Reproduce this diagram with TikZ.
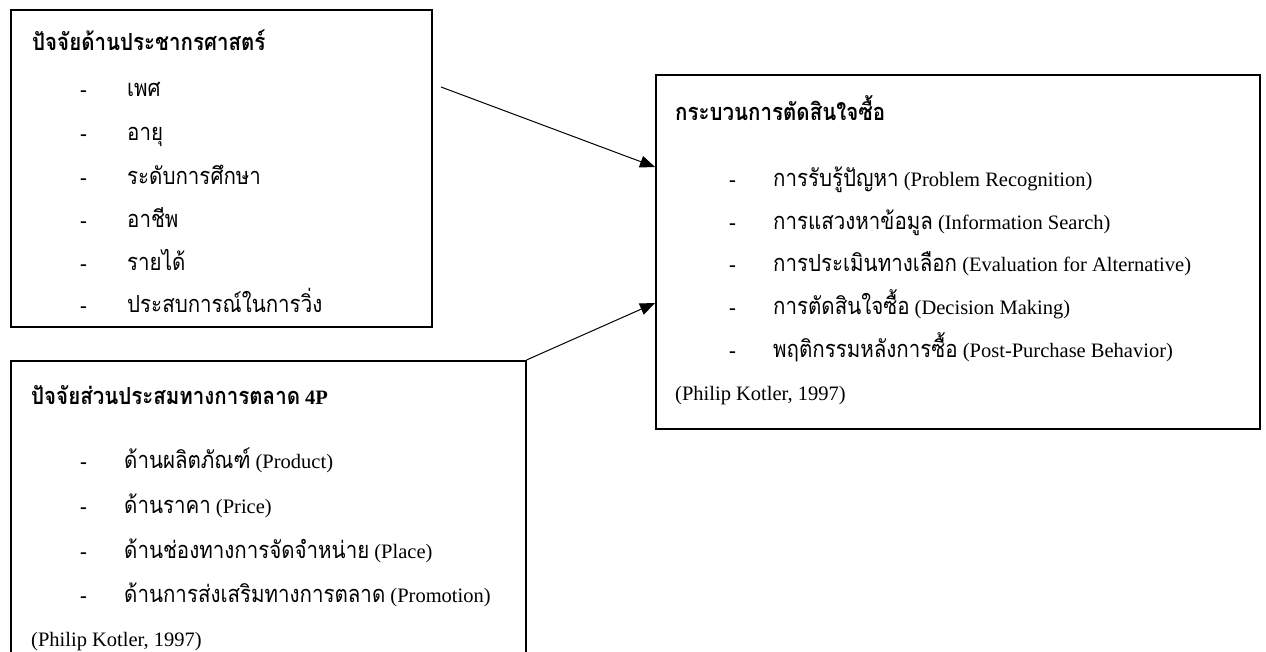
\documentclass[tikz,border=0pt]{standalone}
\usepackage{fontspec}
\setmainfont{Liberation Serif}
\newfontfamily\thaifont[Script=Thai, Scale=1.15, FakeStretch=0.87]{Loma}
\newcommand{\thtxt}[1]{{\thaifont #1}}
\usetikzlibrary{arrows.meta}
\begin{document}
\begin{tikzpicture}[x=1pt,y=-1pt,
  font=\fontsize{20.5}{24}\selectfont,
  box/.style={draw, line width=1.5pt, inner sep=0pt, anchor=north west},
  txt/.style={anchor=base west, inner sep=0pt},
  dsh/.style={anchor=base west, inner sep=0pt, font=\fontsize{20.5}{24}\selectfont\bfseries},
  ttl/.style={anchor=base west, inner sep=0pt, font=\fontsize{20.5}{24}\selectfont\bfseries},
  arr/.style={line width=1pt, -{Triangle[length=15pt,width=12pt]}}]
\clip (0,0) rectangle (1266,651);
% boxes
\node[box, minimum width=421pt, minimum height=317pt] (b1) at (10,9) {};
\node[box, minimum width=515pt, minimum height=330pt] (b2) at (10,360) {};
\node[box, minimum width=604pt, minimum height=354pt] (b3) at (655,74) {};
% box 1 texts
\node[ttl] (t1) at (32,50) {\thtxt{ปัจจัยด้านประชากรศาสตร์}};
\node[dsh] (d11) at (80,96) {-};
\node[txt] (i11) at (127,96) {\thtxt{เพศ}};
\node[dsh] (d12) at (80,140) {-};
\node[txt] (i12) at (127,140) {\thtxt{อายุ}};
\node[dsh] (d13) at (80,184) {-};
\node[txt] (i13) at (127,184) {\thtxt{ระดับการศึกษา}};
\node[dsh] (d14) at (80,227) {-};
\node[txt] (i14) at (127,227) {\thtxt{อาชีพ}};
\node[dsh] (d15) at (80,270) {-};
\node[txt] (i15) at (127,270) {\thtxt{รายได้}};
\node[dsh] (d16) at (80,312) {-};
\node[txt] (i16) at (127,312) {\thtxt{ประสบการณ์ในการวิ่ง}};
% box 2 texts
\node[ttl] (t2) at (31,404) {\thtxt{ปัจจัยส่วนประสมทางการตลาด} 4P};
\node[dsh] (d21) at (80,468) {-};
\node[txt] (i21) at (124,468) {\thtxt{ด้านผลิตภัณฑ์} (Product)};
\node[dsh] (d22) at (80,513) {-};
\node[txt] (i22) at (124,513) {\thtxt{ด้านราคา} (Price)};
\node[dsh] (d23) at (80,558) {-};
\node[txt] (i23) at (124,558) {\thtxt{ด้านช่องทางการจัดจำหน่าย} (Place)};
\node[dsh] (d24) at (80,602) {-};
\node[txt] (i24) at (124,602) {\thtxt{ด้านการส่งเสริมทางการตลาด} (Promotion)};
\node[txt] (k2) at (31,646) {(Philip Kotler, 1997)};
% box 3 texts
\node[ttl] (t3) at (675,120) {\thtxt{กระบวนการตัดสินใจซื้อ}};
\node[dsh] (d31) at (729,186) {-};
\node[txt] (i31) at (773,186) {\thtxt{การรับรู้ปัญหา} (Problem Recognition)};
\node[dsh] (d32) at (729,229) {-};
\node[txt] (i32) at (773,229) {\thtxt{การแสวงหาข้อมูล} (Information Search)};
\node[dsh] (d33) at (729,271) {-};
\node[txt] (i33) at (773,271) {\thtxt{การประเมินทางเลือก} (Evaluation for Alternative)};
\node[dsh] (d34) at (729,314) {-};
\node[txt] (i34) at (773,314) {\thtxt{การตัดสินใจซื้อ} (Decision Making)};
\node[dsh] (d35) at (729,357) {-};
\node[txt] (i35) at (773,357) {\thtxt{พฤติกรรมหลังการซื้อ} (Post-Purchase Behavior)};
\node[txt] (k3) at (675,400) {(Philip Kotler, 1997)};
% connectors
\coordinate (s1) at (441,87);
\path (b3.north west) ++(0,93) coordinate (e1);
\path (b3.north west) ++(0,229) coordinate (e2);
\draw[arr] (s1) -- (e1);
\draw[arr] (b2.north east) -- (e2);
\end{tikzpicture}
\end{document}
